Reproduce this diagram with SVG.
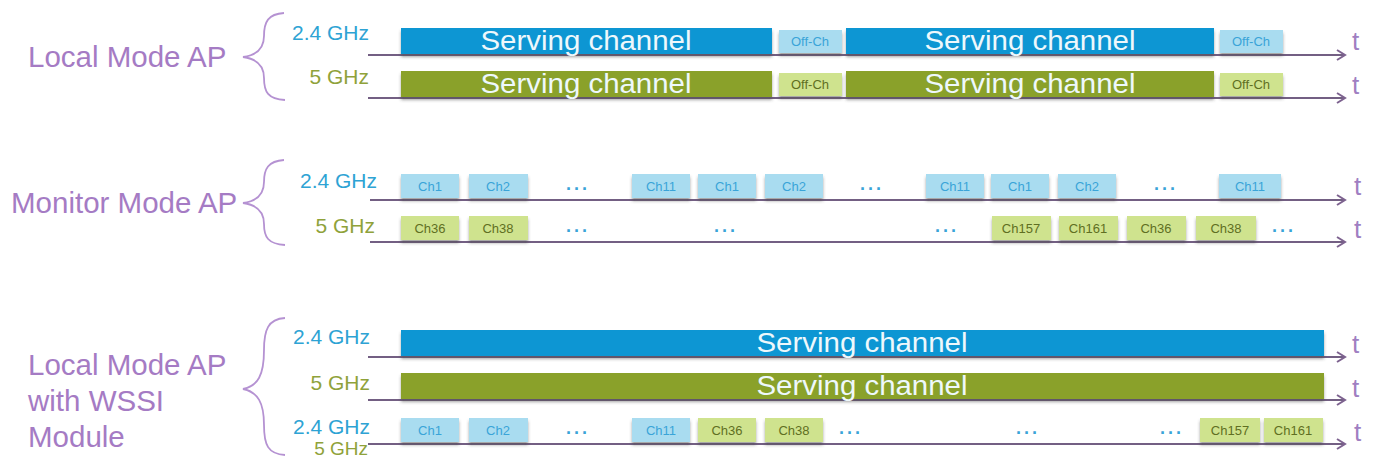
<svg xmlns="http://www.w3.org/2000/svg" width="1374" height="459" viewBox="0 0 1374 459">
<defs>
<filter id="sh" x="-5%" y="-30%" width="110%" height="170%">
<feDropShadow dx="0" dy="3" stdDeviation="1.8" flood-color="#4a4a4a" flood-opacity="0.5"/>
</filter>
<marker id="arr" markerUnits="userSpaceOnUse" markerWidth="14" markerHeight="14" refX="11" refY="7" orient="auto">
<path d="M3,2 L11,7 L3,12" fill="none" stroke="#7d628f" stroke-width="2"/>
</marker>
<style>
text{font-family:"Liberation Sans",Arial,sans-serif}
.mode{fill:#a57bc4;font-size:29.5px}
.brace{fill:none;stroke:#b592d2;stroke-width:1.8}
.f24{fill:#2ea3d4;font-size:21px;text-anchor:end}
.f5{fill:#8fa23a;font-size:21px;text-anchor:end}
.bb{fill:#0796d3;filter:url(#sh)}
.gb{fill:#8aa12a;filter:url(#sh)}
.lb{fill:#a9dcf0;filter:url(#sh)}
.lg{fill:#cfe38e;filter:url(#sh)}
.sv{fill:#eef8fc;font-size:27px;text-anchor:middle}
.tb{fill:#3aa4d8;font-size:13px;text-anchor:middle}
.tg{fill:#5f6f22;font-size:13px;text-anchor:middle}
.dots{fill:#3aa4d8;font-size:18px;font-weight:bold;letter-spacing:3px;text-anchor:middle}
.tl{fill:none;stroke:#735f83;stroke-width:2;marker-end:url(#arr)}
.t{fill:#a07fc2;font-size:26px}
</style>
</defs>

<g id="labels">
<text class="mode" x="28" y="67">Local Mode AP</text>
<path class="brace" d="M284,13 C268,14 264,22 264,36 C264,48 258,55 243,57 C258,59 264,66 264,78 C264,92 268,99 285,100"/>
<text class="f24" x="369" y="40">2.4 GHz</text>
<text class="f5" x="369" y="84">5 GHz</text>

<text class="mode" x="11" y="213">Monitor Mode AP</text>
<path class="brace" d="M284,160 C268,161 264,169 264,182 C264,194 258,201 243,203 C258,205 264,212 264,224 C264,237 268,244 285,245"/>
<text class="f24" x="377" y="188">2.4 GHz</text>
<text class="f5" x="375" y="233">5 GHz</text>

<text class="mode" x="28" y="375">Local Mode AP</text>
<text class="mode" x="28" y="411">with WSSI</text>
<text class="mode" x="28" y="447">Module</text>
<path class="brace" d="M285,318 C268,319 264,330 264,350 C264,375 258,386 243,389 C258,392 264,403 264,425 C264,445 268,454 285,455"/>
<text class="f24" x="370" y="344">2.4 GHz</text>
<text class="f5" x="370" y="390">5 GHz</text>
<text class="f24" x="370" y="434">2.4 GHz</text>
<text class="f5" x="368" y="455" style="font-size:19px">5 GHz</text>
</g>

<g id="connectors">
<path class="tl" d="M368,55 H1345"/>
<path class="tl" d="M368,98 H1345"/>
<path class="tl" d="M370,200 H1345"/>
<path class="tl" d="M370,242 H1345"/>
<path class="tl" d="M368,357 H1345"/>
<path class="tl" d="M368,400 H1345"/>
<path class="tl" d="M368,444 H1345"/>
</g>

<g id="time-labels">
<text class="t" x="1352" y="50">t</text>
<text class="t" x="1352" y="94">t</text>
<text class="t" x="1354" y="195">t</text>
<text class="t" x="1354" y="238">t</text>
<text class="t" x="1352" y="353">t</text>
<text class="t" x="1352" y="397">t</text>
<text class="t" x="1354" y="441">t</text>
</g>

<!-- Local Mode AP, 2.4 GHz -->
<g id="lm24-sc1"><rect class="bb" x="401" y="28" width="371" height="26"/><text class="sv" x="586" y="50" textLength="211" lengthAdjust="spacingAndGlyphs">Serving channel</text></g>
<g id="lm24-off1"><rect class="lb" x="779" y="30" width="63" height="23"/><text class="tb" x="810" y="46">Off-Ch</text></g>
<g id="lm24-sc2"><rect class="bb" x="846" y="28" width="368" height="26"/><text class="sv" x="1030" y="50" textLength="211" lengthAdjust="spacingAndGlyphs">Serving channel</text></g>
<g id="lm24-off2"><rect class="lb" x="1220" y="30" width="63" height="23"/><text class="tb" x="1251" y="46">Off-Ch</text></g>

<!-- Local Mode AP, 5 GHz -->
<g id="lm5-sc1"><rect class="gb" x="401" y="71" width="371" height="26"/><text class="sv" x="586" y="93" textLength="211" lengthAdjust="spacingAndGlyphs">Serving channel</text></g>
<g id="lm5-off1"><rect class="lg" x="779" y="73" width="63" height="23"/><text class="tg" x="810" y="89">Off-Ch</text></g>
<g id="lm5-sc2"><rect class="gb" x="846" y="71" width="368" height="26"/><text class="sv" x="1030" y="93" textLength="211" lengthAdjust="spacingAndGlyphs">Serving channel</text></g>
<g id="lm5-off2"><rect class="lg" x="1220" y="73" width="63" height="23"/><text class="tg" x="1251" y="89">Off-Ch</text></g>

<!-- Monitor Mode AP, 2.4 GHz -->
<g id="mm24-ch1a"><rect class="lb" x="401" y="174" width="58" height="24"/><text class="tb" x="430" y="191">Ch1</text></g>
<g id="mm24-ch2a"><rect class="lb" x="469" y="174" width="59" height="24"/><text class="tb" x="498" y="191">Ch2</text></g>
<text class="dots" x="578" y="190">...</text>
<g id="mm24-ch11a"><rect class="lb" x="632" y="174" width="58" height="24"/><text class="tb" x="661" y="191">Ch11</text></g>
<g id="mm24-ch1b"><rect class="lb" x="698" y="174" width="58" height="24"/><text class="tb" x="727" y="191">Ch1</text></g>
<g id="mm24-ch2b"><rect class="lb" x="765" y="174" width="58" height="24"/><text class="tb" x="794" y="191">Ch2</text></g>
<text class="dots" x="872" y="190">...</text>
<g id="mm24-ch11b"><rect class="lb" x="926" y="174" width="58" height="24"/><text class="tb" x="955" y="191">Ch11</text></g>
<g id="mm24-ch1c"><rect class="lb" x="991" y="174" width="58" height="24"/><text class="tb" x="1020" y="191">Ch1</text></g>
<g id="mm24-ch2c"><rect class="lb" x="1058" y="174" width="58" height="24"/><text class="tb" x="1087" y="191">Ch2</text></g>
<text class="dots" x="1166" y="190">...</text>
<g id="mm24-ch11c"><rect class="lb" x="1219" y="174" width="62" height="24"/><text class="tb" x="1250" y="191">Ch11</text></g>

<!-- Monitor Mode AP, 5 GHz -->
<g id="mm5-ch36a"><rect class="lg" x="401" y="216" width="58" height="24"/><text class="tg" x="430" y="233">Ch36</text></g>
<g id="mm5-ch38a"><rect class="lg" x="469" y="216" width="59" height="24"/><text class="tg" x="498" y="233">Ch38</text></g>
<text class="dots" x="578" y="232">...</text>
<text class="dots" x="726" y="232">...</text>
<text class="dots" x="947" y="232">...</text>
<g id="mm5-ch157"><rect class="lg" x="992" y="216" width="59" height="24"/><text class="tg" x="1021" y="233">Ch157</text></g>
<g id="mm5-ch161"><rect class="lg" x="1059" y="216" width="59" height="24"/><text class="tg" x="1088" y="233">Ch161</text></g>
<g id="mm5-ch36b"><rect class="lg" x="1127" y="216" width="59" height="24"/><text class="tg" x="1156" y="233">Ch36</text></g>
<g id="mm5-ch38b"><rect class="lg" x="1196" y="216" width="60" height="24"/><text class="tg" x="1226" y="233">Ch38</text></g>
<text class="dots" x="1284" y="232">...</text>

<!-- Local Mode AP with WSSI -->
<g id="ws24-sc"><rect class="bb" x="401" y="330" width="923" height="26"/><text class="sv" x="862" y="352" textLength="211" lengthAdjust="spacingAndGlyphs">Serving channel</text></g>
<g id="ws5-sc"><rect class="gb" x="401" y="373" width="923" height="26"/><text class="sv" x="862" y="395" textLength="211" lengthAdjust="spacingAndGlyphs">Serving channel</text></g>

<g id="wsm-ch1"><rect class="lb" x="401" y="418" width="58" height="24"/><text class="tb" x="430" y="435">Ch1</text></g>
<g id="wsm-ch2"><rect class="lb" x="469" y="418" width="59" height="24"/><text class="tb" x="498" y="435">Ch2</text></g>
<text class="dots" x="578" y="434">...</text>
<g id="wsm-ch11"><rect class="lb" x="632" y="418" width="58" height="24"/><text class="tb" x="661" y="435">Ch11</text></g>
<g id="wsm-ch36"><rect class="lg" x="698" y="418" width="58" height="24"/><text class="tg" x="727" y="435">Ch36</text></g>
<g id="wsm-ch38"><rect class="lg" x="765" y="418" width="58" height="24"/><text class="tg" x="794" y="435">Ch38</text></g>
<text class="dots" x="851" y="434">...</text>
<text class="dots" x="1028" y="434">...</text>
<text class="dots" x="1172" y="434">...</text>
<g id="wsm-ch157"><rect class="lg" x="1200" y="418" width="60" height="24"/><text class="tg" x="1230" y="435">Ch157</text></g>
<g id="wsm-ch161"><rect class="lg" x="1264" y="418" width="59" height="24"/><text class="tg" x="1293" y="435">Ch161</text></g>
</svg>
